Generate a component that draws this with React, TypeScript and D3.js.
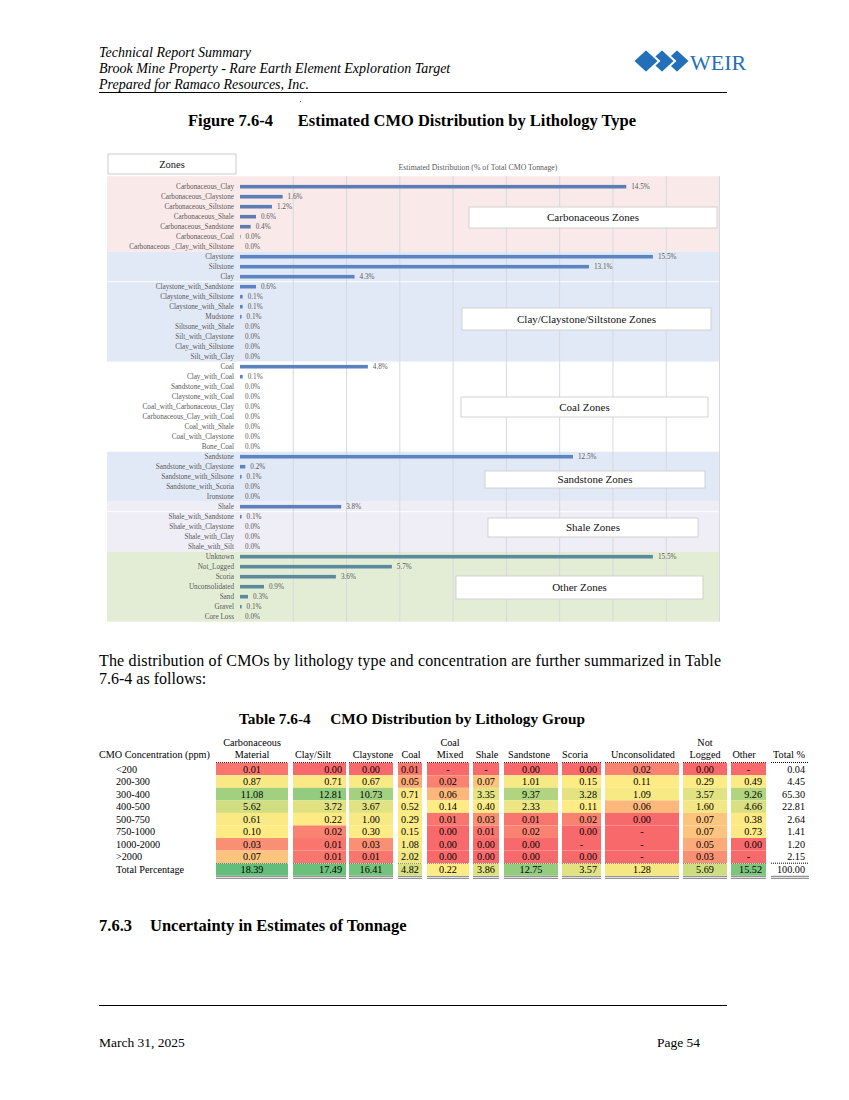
import React from 'react';
import * as d3 from 'd3';

const SERIF = "'Liberation Serif','Times New Roman',Times,serif";

// ---------------- Chart data ----------------
const carbonaceousLith = ['Carbonaceous_Clay', 'Carbonaceous_Claystone', 'Carbonaceous_Siltstone', 'Carbonaceous_Shale', 'Carbonaceous_Sandstone', 'Carbonaceous_Coal', 'Carbonaceous _Clay_with_Siltstone'];
const carbonaceousPct = [14.5, 1.6, 1.2, 0.6, 0.4, 0.02, 0.0];
const clayLith = ['Claystone', 'Siltstone', 'Clay', 'Claystone_with_Sandstone', 'Claystone_with_Siltstone', 'Claystone_with_Shale', 'Mudstone', 'Siltsone_with_Shale', 'Silt_with_Claystone', 'Clay_with_Siltstone', 'Silt_with_Clay'];
const clayPct = [15.5, 13.1, 4.3, 0.6, 0.1, 0.1, 0.06, 0, 0, 0, 0];
const coalLith = ['Coal', 'Clay_with_Coal', 'Sandstone_with_Coal', 'Claystone_with_Coal', 'Coal_with_Carbonaceous_Clay', 'Carbonaceous_Clay_with_Coal', 'Coal_with_Shale', 'Coal_with_Claystone', 'Bone_Coal'];
const coalPct = [4.8, 0.1, 0, 0, 0, 0, 0, 0, 0];
const sandstoneLith = ['Sandstone', 'Sandstone_with_Claystone', 'Sandstone_with_Siltsone', 'Sandstone_with_Scoria', 'Ironstone'];
const sandstonePct = [12.5, 0.2, 0.06, 0, 0];
const shaleLith = ['Shale', 'Shale_with_Sandstone', 'Shale_with_Claystone', 'Shale_with_Clay', 'Shale_with_Silt'];
const shalePct = [3.8, 0.06, 0, 0, 0];
const otherLith = ['Unknown', 'Not_Logged', 'Scoria', 'Unconsolidated', 'Sand', 'Gravel', 'Core Loss'];
const otherPct = [15.5, 5.7, 3.6, 0.9, 0.3, 0.06, 0];
const zoneTitles = ['Carbonaceous Zones', 'Clay/Claystone/Siltstone Zones', 'Coal Zones', 'Sandstone Zones', 'Shale Zones', 'Other Zones'];
const gridTicks = [2, 4, 6, 8, 10, 12, 14, 16, 18];

// ---------------- Table data ----------------
const concRows = ['<200', '200-300', '300-400', '400-500', '500-750', '750-1000', '1000-2000', '>2000'];
const groupHead1 = ['Carbonaceous', '', '', '', 'Coal', '', '', '', '', 'Not', '', ''];
const groupHead2 = ['Material', 'Clay/Silt', 'Claystone', 'Coal', 'Mixed', 'Shale', 'Sandstone', 'Scoria', 'Unconsolidated', 'Logged', 'Other', 'Total %'];
const carbMaterial = [0.01, 0.87, 11.08, 5.62, 0.61, 0.10, 0.03, 0.07];
const claySilt = [0.00, 0.71, 12.81, 3.72, 0.22, 0.02, 0.01, 0.01];
const claystone = [0.00, 0.67, 10.73, 3.67, 1.00, 0.30, 0.03, 0.01];
const coal = [0.01, 0.05, 0.71, 0.52, 0.29, 0.15, 1.08, 2.02];
const coalMixed = [null, 0.02, 0.06, 0.14, 0.01, 0.00, 0.00, 0.00];
const shale = [null, 0.07, 3.35, 0.40, 0.03, 0.01, 0.00, 0.00];
const sandstone = [0.00, 1.01, 9.37, 2.33, 0.01, 0.02, 0.00, 0.00];
const scoria = [0.00, 0.15, 3.28, 0.11, 0.02, 0.00, null, 0.00];
const unconsolidated = [0.02, 0.11, 1.09, 0.06, 0.00, null, null, null];
const notLogged = [0.00, 0.29, 3.57, 1.60, 0.07, 0.07, 0.05, 0.03];
const other = [null, 0.49, 9.26, 4.66, 0.38, 0.73, 0.00, null];
const totalPct = [0.04, 4.45, 65.30, 22.81, 2.64, 1.41, 1.20, 2.15];
const columnTotals = [18.39, 17.49, 16.41, 4.82, 0.22, 3.86, 12.75, 3.57, 1.28, 5.69, 15.52, 100.00];

// ---------------- Layout / style ----------------
const zoneFills = ['#FAE9E9', '#E2E9F6', '#FFFFFF', '#E2E9F6', '#EFEDF5', '#E3EDD6'];
const zoneBarColors = ['#5B7DB6', '#5A84C2', '#5A82BE', '#5A84C2', '#5B80BE', '#5B8A9D'];
const zoneBoxes = [
  { x0: 469, x1: 717, y0: 207, y1: 228 },
  { x0: 462, x1: 711, y0: 308, y1: 330 },
  { x0: 461, x1: 708, y0: 397, y1: 417 },
  { x0: 485, x1: 705, y0: 471, y1: 488 },
  { x0: 488, x1: 698, y0: 518, y1: 537 },
  { x0: 456, x1: 703, y0: 576, y1: 599 },
];
const colLayout = [
  { x0: 216, x1: 288, align: 'middle', hx: 252 },
  { x0: 293, x1: 346, align: 'end', hx: 313 },
  { x0: 349, x1: 393, align: 'middle', hx: 373 },
  { x0: 398, x1: 422, align: 'middle', hx: 411 },
  { x0: 427, x1: 469, align: 'middle', hx: 450 },
  { x0: 473, x1: 499, align: 'middle', hx: 487 },
  { x0: 504, x1: 558, align: 'middle', hx: 529 },
  { x0: 562, x1: 601, align: 'end', hx: 575 },
  { x0: 605, x1: 679, align: 'middle', hx: 643 },
  { x0: 683, x1: 727, align: 'middle', hx: 705 },
  { x0: 731, x1: 766, align: 'end', hx: 744 },
  { x0: 771, x1: 809, align: 'end', hx: 789 },
];

export default function App() {
  const zones = [
    { cats: carbonaceousLith, vals: carbonaceousPct },
    { cats: clayLith, vals: clayPct },
    { cats: coalLith, vals: coalPct },
    { cats: sandstoneLith, vals: sandstonePct },
    { cats: shaleLith, vals: shalePct },
    { cats: otherLith, vals: otherPct },
  ];
  const allCats = zones.flatMap(z => z.cats);
  const x = d3.scaleLinear().domain([0, 18]).range([240, 719.5]);
  const y = d3.scaleBand<string>().domain(allCats).range([181.7, 621.7]);
  const bw = y.bandwidth();
  const barH = 3.6;

  // table
  const tableCols = [carbMaterial, claySilt, claystone, coal, coalMixed, shale, sandstone, scoria, unconsolidated, notLogged, other, totalPct];
  const allNums = [...tableCols.slice(0, 11).flat().filter(v => v !== null), ...columnTotals.slice(0, 11)] as number[];
  const color = d3.scaleLinear<string>()
    .domain([0, 0.1, d3.max(allNums) as number])
    .range(['#F8696B', '#FFEB84', '#63BE7B'])
    .clamp(true);
  const rowY = d3.scaleLinear().domain([0, 1]).range([769, 781.55]);
  const rowH = 12.55;
  const totalY = rowY(concRows.length);

  const txtX = (c: typeof colLayout[0]) => c.align === 'end' ? c.x1 - 4 : (c.x0 + c.x1) / 2;

  const logoX = [646, 662, 677];

  return (
    <svg width={849} height={1100} style={{ position: 'absolute', left: 0, top: 0, background: '#fff' }} fontFamily={SERIF}>
      <rect width={849} height={1100} fill="#fff" />
      {/* Header */}
      <g fontStyle="italic" fontSize={14} fill="#000">
        <text x={99} y={57}>Technical Report Summary</text>
        <text x={99} y={73}>Brook Mine Property - Rare Earth Element Exploration Target</text>
        <text x={99} y={89}>Prepared for Ramaco Resources, Inc.</text>
      </g>
      <line x1={99} x2={727} y1={92.5} y2={92.5} stroke="#000" strokeWidth={1} />
      <rect x={300} y={101} width={1} height={1} fill="#444" />
      {/* WEIR logo */}
      <g>
        {logoX.slice().reverse().map((cx, i) => (
          <path key={i} d={`M${cx - 13},61 L${cx},${49} L${cx + 13},61 L${cx},${73} Z`} fill="#2470B8" stroke="#fff" strokeWidth={2} />
        ))}
        <text x={690} y={69.5} fontSize={22} fill="#2470B8">WEIR</text>
      </g>

      {/* Figure title */}
      <g fontWeight="bold" fontSize={16.5}>
        <text x={188} y={126}>Figure 7.6-4</text>
        <text x={636} y={126} textAnchor="end">Estimated CMO Distribution by Lithology Type</text>
      </g>

      {/* Chart */}
      <g>
        {zones.map((z, i) => {
          const y0 = (y(z.cats[0]) as number) - (i === 0 ? 5.5 : 0);
          const y1 = (y(z.cats[z.cats.length - 1]) as number) + bw;
          return <rect key={i} x={107} y={y0} width={720 - 107} height={y1 - y0} fill={zoneFills[i]} />;
        })}
        <line x1={107} x2={720} y1={(y('Claystone_with_Sandstone') as number)} y2={(y('Claystone_with_Sandstone') as number)} stroke="#fff" strokeWidth={1} />
        <line x1={107} x2={720} y1={(y('Shale_with_Sandstone') as number)} y2={(y('Shale_with_Sandstone') as number)} stroke="#fff" strokeWidth={1} />
        {gridTicks.map(t => (
          <line key={t} x1={x(t)} x2={x(t)} y1={176} y2={621.7} stroke="#D6D9DE" strokeWidth={1} />
        ))}
        <text x={478} y={170} fontSize={7.8} fill="#595959" textAnchor="middle">Estimated Distribution (% of Total CMO Tonnage)</text>
        <rect x={108} y={154} width={128} height={20} fill="#fff" stroke="#BFBFBF" strokeWidth={0.8} />
        <text x={172} y={167.5} fontSize={10.5} textAnchor="middle" fill="#111">Zones</text>
        {zones.map((z, zi) => z.cats.map((c, ci) => {
          const cy = (y(c) as number) + bw / 2;
          const v = z.vals[ci];
          return (
            <g key={c + zi}>
              <text x={234} y={cy + 2.4} fontSize={7.2} fill="#595959" textAnchor="end">{c}</text>
              <rect x={x(0)} y={cy - barH / 2} width={x(v) - x(0)} height={barH} fill={zoneBarColors[zi]} />
              <text x={x(v) + 5} y={cy + 2.4} fontSize={7.2} fill="#595959">{v.toFixed(1) + '%'}</text>
            </g>
          );
        }))}
        {zoneTitles.map((t, i) => {
          const b = zoneBoxes[i];
          return (
            <g key={t}>
              <rect x={b.x0} y={b.y0} width={b.x1 - b.x0} height={b.y1 - b.y0} fill="#fff" stroke="#C8C8C8" strokeWidth={0.8} />
              <text x={(b.x0 + b.x1) / 2} y={(b.y0 + b.y1) / 2 + 3.8} fontSize={11} textAnchor="middle" fill="#111">{t}</text>
            </g>
          );
        })}
      </g>

      {/* Paragraph */}
      <g fontSize={16}>
        <text x={99} y={666} textLength={622} lengthAdjust="spacing">The distribution of CMOs by lithology type and concentration are further summarized in Table</text>
        <text x={99} y={684}>7.6-4 as follows:</text>
      </g>

      {/* Table title */}
      <g fontWeight="bold" fontSize={15.3}>
        <text x={239} y={724}>Table 7.6-4</text>
        <text x={585} y={724} textAnchor="end">CMO Distribution by Lithology Group</text>
      </g>

      {/* Table */}
      <g fontSize={10.2} fill="#000">
        <text x={99} y={758}>CMO Concentration (ppm)</text>
        {colLayout.map((c, i) => (
          <g key={'h' + i}>
            {groupHead1[i] && <text x={c.hx} y={746} textAnchor="middle">{groupHead1[i]}</text>}
            <text x={c.hx} y={758} textAnchor="middle">{groupHead2[i]}</text>
            <line x1={c.x0} x2={c.x1} y1={762.5} y2={762.5} stroke="#000" strokeWidth={1} strokeDasharray="1,1" />
            <line x1={c.x0} x2={c.x1} y1={863.2} y2={863.2} stroke="#000" strokeWidth={1} strokeDasharray="1,1" />
            <line x1={c.x0} x2={c.x1} y1={876.3} y2={876.3} stroke="#555" strokeWidth={0.8} />
            <line x1={c.x0} x2={c.x1} y1={878.3} y2={878.3} stroke="#555" strokeWidth={0.8} />
          </g>
        ))}
        {concRows.map((r, ri) => (
          <text key={r} x={116} y={rowY(ri) + 3.6}>{r}</text>
        ))}
        <text x={116} y={totalY + 3.6}>Total Percentage</text>
        {tableCols.map((col, ci) => {
          const c = colLayout[ci];
          const isTotalCol = ci === tableCols.length - 1;
          return (
            <g key={'c' + ci}>
              {col.map((v, ri) => (
                <g key={ri}>
                  {!isTotalCol && <rect x={c.x0} y={rowY(ri) - rowH / 2} width={c.x1 - c.x0} height={rowH} fill={color(v === null ? 0 : v)} />}
                  <text x={v === null ? (c.x0 + c.x1) / 2 : txtX(c)} y={rowY(ri) + 3.6} textAnchor={v === null ? 'middle' : c.align}>{v === null ? '-' : v.toFixed(2)}</text>
                </g>
              ))}
              {!isTotalCol && <rect x={c.x0} y={totalY - rowH / 2 + 0.5} width={c.x1 - c.x0} height={rowH - 0.5} fill={color(columnTotals[ci])} />}
              <text x={txtX(c)} y={totalY + 3.6} textAnchor={c.align}>{columnTotals[ci].toFixed(2)}</text>
            </g>
          );
        })}
      </g>

      {/* Section heading */}
      <g fontWeight="bold" fontSize={16.5}>
        <text x={99} y={931}>7.6.3</text>
        <text x={150} y={931}>Uncertainty in Estimates of Tonnage</text>
      </g>

      {/* Footer */}
      <line x1={99} x2={727} y1={1005.5} y2={1005.5} stroke="#000" strokeWidth={1} />
      <g fontSize={13.5}>
        <text x={99} y={1047}>March 31, 2025</text>
        <text x={700} y={1047} textAnchor="end">Page 54</text>
      </g>
    </svg>
  );
}
